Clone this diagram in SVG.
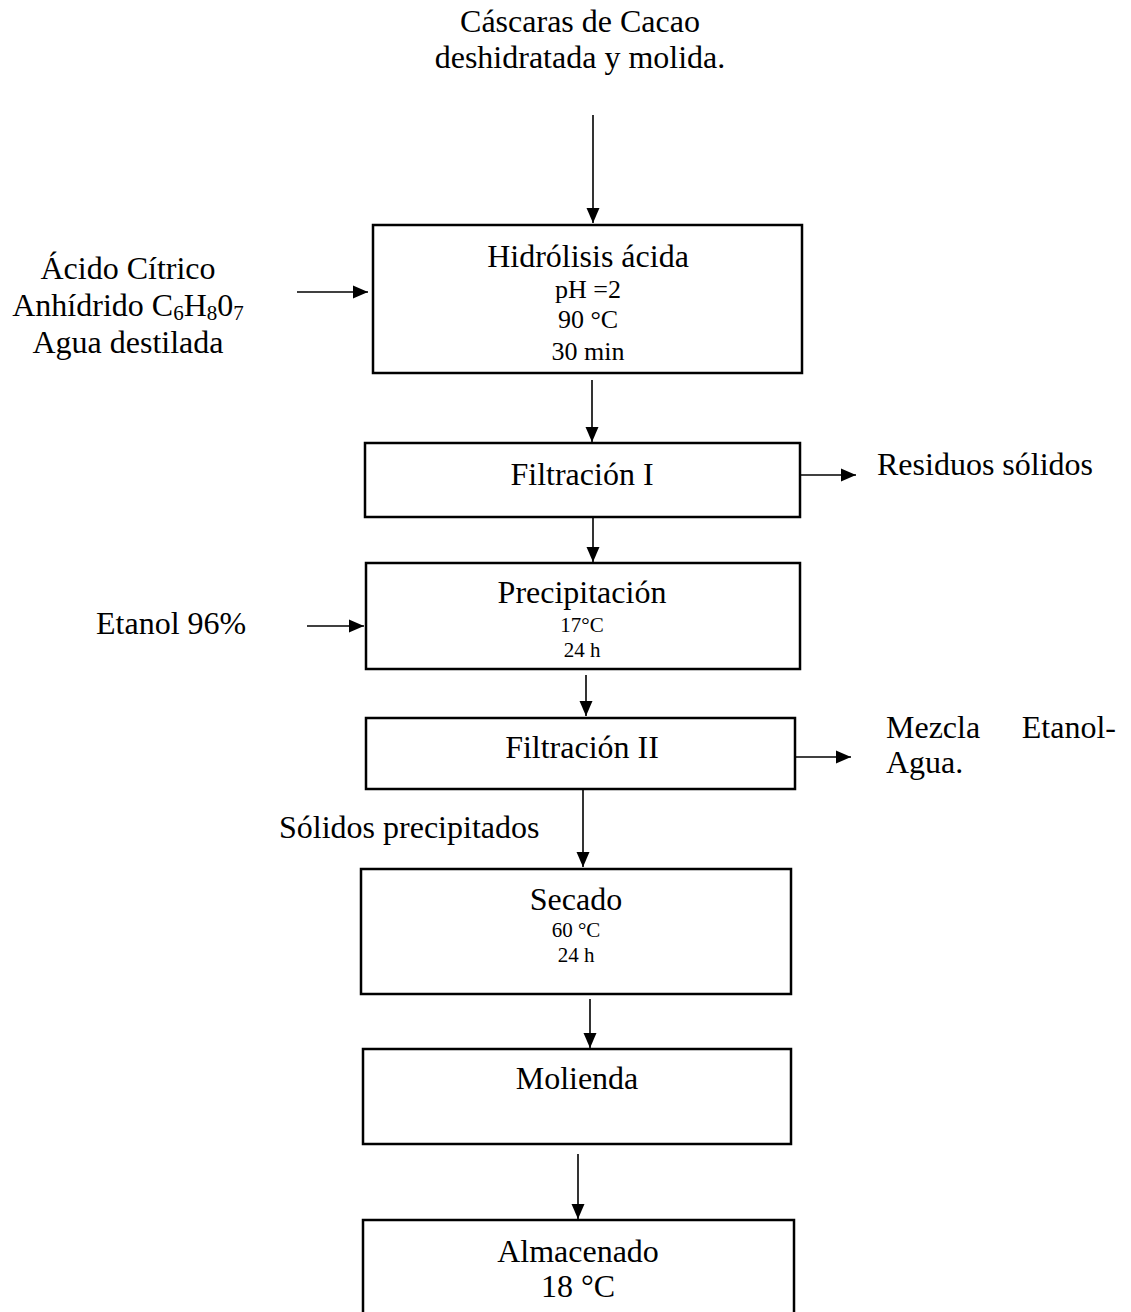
<svg xmlns="http://www.w3.org/2000/svg" width="1131" height="1312" viewBox="0 0 1131 1312">
<style>
text{font-family:"Liberation Serif","Times New Roman",serif;fill:#000}
.t{font-size:32px}
.m{font-size:26px}
.s{font-size:21px}
.c{text-anchor:middle}
.box{fill:#fff;stroke:#000;stroke-width:2.5}
.ar{stroke:#000;stroke-width:1.6;fill:none;marker-end:url(#ah)}
</style>
<defs>
<marker id="ah" markerUnits="userSpaceOnUse" markerWidth="15" markerHeight="14" refX="15" refY="7" orient="auto">
<path d="M0,0.5 L15,7 L0,13.5 z" fill="#000"/>
</marker>
</defs>
<g id="connectors">
<line class="ar" x1="593" y1="115" x2="593" y2="223"/>
<line class="ar" x1="297" y1="292" x2="368" y2="292"/>
<line class="ar" x1="592" y1="380" x2="592" y2="442"/>
<line class="ar" x1="800" y1="475" x2="856" y2="475"/>
<line class="ar" x1="593" y1="517" x2="593" y2="562"/>
<line class="ar" x1="307" y1="626" x2="364" y2="626"/>
<line class="ar" x1="586" y1="675" x2="586" y2="716"/>
<line class="ar" x1="795" y1="757" x2="851" y2="757"/>
<line class="ar" x1="583" y1="789" x2="583" y2="867"/>
<line class="ar" x1="590" y1="999" x2="590" y2="1048"/>
<line class="ar" x1="578" y1="1154" x2="578" y2="1219"/>
</g>
<g id="input-cascaras">
<text class="t c" x="580" y="32">Cáscaras de Cacao</text>
<text class="t c" x="580" y="68">deshidratada y molida.</text>
</g>
<g id="input-acido">
<text class="t c" x="128" y="279">Ácido Cítrico</text>
<text class="t c" x="128" y="316">Anhídrido C<tspan font-size="21" dy="4">6</tspan><tspan dy="-4">H</tspan><tspan font-size="21" dy="4">8</tspan><tspan dy="-4">0</tspan><tspan font-size="21" dy="4">7</tspan></text>
<text class="t c" x="128" y="353">Agua destilada</text>
</g>
<g id="hidrolisis">
<rect class="box" x="373" y="225" width="429" height="148"/>
<text class="t c" x="588" y="267">Hidrólisis ácida</text>
<text class="m c" x="588" y="298">pH =2</text>
<text class="m c" x="588" y="328">90 °C</text>
<text class="m c" x="588" y="360">30 min</text>
</g>
<g id="filtracion1">
<rect class="box" x="365" y="443" width="435" height="74"/>
<text class="t c" x="582" y="485">Filtración I</text>
</g>
<g id="residuos">
<text class="t" x="877" y="475">Residuos sólidos</text>
</g>
<g id="etanol">
<text class="t" x="96" y="634">Etanol 96%</text>
</g>
<g id="precipitacion">
<rect class="box" x="366" y="563" width="434" height="106"/>
<text class="t c" x="582" y="603">Precipitación</text>
<text class="s c" x="582" y="632">17°C</text>
<text class="s c" x="582" y="657">24 h</text>
</g>
<g id="filtracion2">
<rect class="box" x="366" y="718" width="429" height="71"/>
<text class="t c" x="582" y="758">Filtración II</text>
</g>
<g id="mezcla">
<text class="t" x="886" y="738">Mezcla</text>
<text class="t" x="1116" y="738" text-anchor="end">Etanol-</text>
<text class="t" x="886" y="773">Agua.</text>
</g>
<g id="solidos">
<text class="t" x="279" y="838">Sólidos precipitados</text>
</g>
<g id="secado">
<rect class="box" x="361" y="869" width="430" height="125"/>
<text class="t c" x="576" y="910">Secado</text>
<text class="s c" x="576" y="937">60 °C</text>
<text class="s c" x="576" y="962">24 h</text>
</g>
<g id="molienda">
<rect class="box" x="363" y="1049" width="428" height="95"/>
<text class="t c" x="577" y="1089">Molienda</text>
</g>
<g id="almacenado">
<rect class="box" x="363" y="1220" width="431" height="110"/>
<text class="t c" x="578" y="1262">Almacenado</text>
<text class="t c" x="578" y="1297">18 °C</text>
</g>
</svg>
